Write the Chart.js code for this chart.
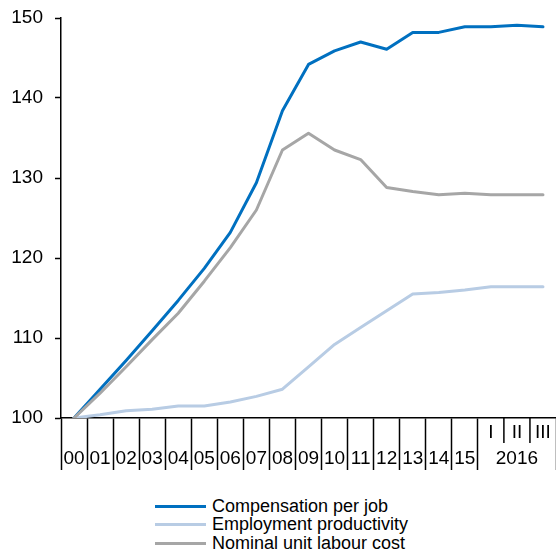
<!DOCTYPE html>
<html>
<head>
<meta charset="utf-8">
<script src="https://cdn.jsdelivr.net/npm/chart.js@4/dist/chart.umd.min.js"></script>
<style>
  html, body { margin: 0; padding: 0; background: #fff; }
  #wrap { position: relative; width: 556px; height: 549px; }
  #chart { position: absolute; left: 0; top: 0; }
  #legend { position: absolute; left: 155px; top: 497px; font-family: "Liberation Sans", Arial, sans-serif; font-size: 18px; color: #000; }
  .item { display: flex; align-items: center; height: 18.5px; white-space: nowrap; }
  .swatch { width: 51px; height: 3px; margin-right: 6px; }
</style>
</head>
<body>
<div id="wrap">
  <canvas id="chart" width="556" height="480"></canvas>
  <div id="legend"></div>
</div>
<script>
// Categories: years 2000-2015, then quarters of 2016
const categories = ['00','01','02','03','04','05','06','07','08','09','10','11','12','13','14','15','2016 I','2016 II','2016 III'];
const quarterLabels = ['','','','','','','','','','','','','','','','','I','II','III'];
const yearLabels = ['00','01','02','03','04','05','06','07','08','09','10','11','12','13','14','15','','2016',''];
const yTicks = [100, 110, 120, 130, 140, 150];

const compensationPerJob = [100, 103.6, 107.2, 110.9, 114.7, 118.7, 123.2, 129.4, 138.4, 144.2, 145.9, 147.0, 146.1, 148.2, 148.2, 148.9, 148.9, 149.1, 148.9];
const employmentProductivity = [100, 100.4, 100.9, 101.1, 101.5, 101.5, 102.0, 102.7, 103.6, 106.4, 109.2, 111.3, 113.4, 115.5, 115.7, 116.0, 116.4, 116.4, 116.4];
const nominalUnitLabourCost = [100, 103.1, 106.4, 109.8, 113.1, 117.1, 121.3, 126.0, 133.5, 135.6, 133.5, 132.3, 128.8, 128.3, 127.9, 128.1, 127.9, 127.9, 127.9];

const seriesNames = ['Compensation per job', 'Employment productivity', 'Nominal unit labour cost'];
const seriesColors = ['#0070C0', '#B8CCE4', '#A6A6A6'];

const FONT = '"Liberation Sans", Arial, sans-serif';
const firstQuarter = 16;

// Short separators between the quarters of 2016
const quarterSeparators = {
  id: 'quarterSeparators',
  afterDraw(chart) {
    const x = chart.scales.x;
    const ctx = chart.ctx;
    ctx.save();
    ctx.strokeStyle = '#000';
    ctx.lineWidth = 1.5;
    for (let i = firstQuarter + 1; i < categories.length; i++) {
      const px = (x.getPixelForValue(i - 1) + x.getPixelForValue(i)) / 2;
      ctx.beginPath();
      ctx.moveTo(px, x.top);
      ctx.lineTo(px, x.top + 25);
      ctx.stroke();
    }
    ctx.restore();
  }
};

const chart = new Chart(document.getElementById('chart'), {
  type: 'line',
  data: {
    labels: categories,
    datasets: [
      { label: seriesNames[0], data: compensationPerJob, borderColor: seriesColors[0], order: 2 },
      { label: seriesNames[1], data: employmentProductivity, borderColor: seriesColors[1], order: 1 },
      { label: seriesNames[2], data: nominalUnitLabourCost, borderColor: seriesColors[2], order: 0 }
    ]
  },
  options: {
    responsive: false,
    animation: false,
    layout: { padding: { top: 18, left: 10, right: 0, bottom: 9 } },
    elements: {
      line: { borderWidth: 3, tension: 0, fill: false, borderCapStyle: 'round', borderJoinStyle: 'round' },
      point: { radius: 0, hoverRadius: 0 }
    },
    plugins: { legend: { display: false }, tooltip: { enabled: false } },
    scales: {
      x: {
        type: 'category',
        offset: true,
        afterFit: (scale) => { scale.height = 53; },
        border: { display: true, color: '#000', width: 1.5 },
        grid: {
          offset: true,
          drawOnChartArea: false,
          drawTicks: true,
          tickLength: 52,
          tickWidth: 1.5,
          tickColor: (ctx) => (ctx.index > firstQuarter && ctx.index < categories.length) ? 'rgba(0,0,0,0)' : '#000'
        },
        ticks: {
          autoSkip: false,
          maxRotation: 0,
          padding: -50,
          color: '#000',
          font: { family: FONT, size: 19, lineHeight: 26 / 19 },
          callback: (v, i) => [quarterLabels[i], yearLabels[i]]
        }
      },
      y: {
        min: 100,
        max: 150,
        afterFit: (scale) => { scale.width = 51; scale.paddingTop = 0; scale.paddingBottom = 0; },
        afterBuildTicks: (scale) => { scale.ticks = yTicks.map(v => ({ value: v })); },
        border: { display: true, color: '#000', width: 1.5 },
        grid: { drawOnChartArea: false, drawTicks: true, tickLength: 6, tickWidth: 1.5, tickColor: '#000' },
        ticks: { padding: 12, color: '#000', font: { family: FONT, size: 19 } }
      }
    }
  },
  plugins: [quarterSeparators]
});

// Legend built from the chart's datasets
const legend = document.getElementById('legend');
chart.data.datasets.forEach(ds => {
  const row = document.createElement('div');
  row.className = 'item';
  const sw = document.createElement('span');
  sw.className = 'swatch';
  sw.style.background = ds.borderColor;
  const txt = document.createElement('span');
  txt.textContent = ds.label;
  row.appendChild(sw);
  row.appendChild(txt);
  legend.appendChild(row);
});
</script>
</body>
</html>
